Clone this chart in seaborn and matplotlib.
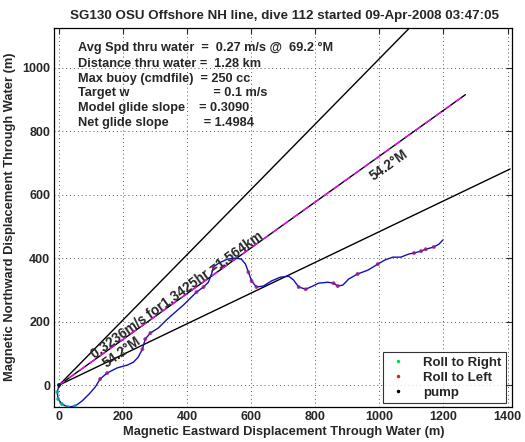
import numpy as np
import pandas as pd
import seaborn as sns
import matplotlib.pyplot as plt
from matplotlib.lines import Line2D

# glider track (magnetic east / north displacement through water, m)
east = [0, -6, -3, 9, 28, 50, 72, 94, 113, 128, 150, 181, 213, 232, 247, 260,
        269, 285, 310, 335, 363, 388, 410, 429, 451, 466, 476, 482, 498, 526,
        551, 569, 582, 591, 601, 616, 638, 663, 691, 717, 732, 748, 770, 792,
        810, 839, 857, 870, 886, 904, 932, 964, 995, 1017, 1042, 1067, 1092,
        1108, 1130, 1145, 1170, 1186, 1198]
north = [0, -22, -44, -60, -69, -66, -50, -28, -6, 19, 38, 54, 63, 72, 88, 113,
         145, 164, 180, 205, 230, 252, 274, 293, 309, 324, 350, 372, 384, 397,
         400, 397, 381, 356, 328, 309, 312, 328, 340, 343, 331, 309, 302, 312,
         321, 324, 321, 312, 315, 334, 350, 362, 381, 394, 403, 403, 413,
         416, 422, 428, 435, 444, 457]

# track indices where each state was logged
roll_right_idx = [0, 1, 2, 3, 4, 5]
roll_left_idx = [9, 10, 15, 16, 17, 23, 24, 27, 33, 34, 35, 41, 42, 46, 47,
                 50, 52, 57, 58, 59, 60]
pump_idx = [0]

heading = 54.2        # deg M
dist_km = 1.564
speed = 0.3236
hours = 1.3425
spread = 10.0         # deg either side of heading

stat_lines = [
    "Avg Spd thru water  =  0.27 m/s @  69.2 \u00b0M",
    "Distance thru water =  1.28 km",
    "Max buoy (cmdfile)  = 250 cc",
    "Target w                        = 0.1 m/s",
    "Model glide slope    = 0.3090",
    "Net glide slope          = 1.4984",
]

sns.set_style("white")
plt.rcParams['font.family'] = ['Liberation Sans', 'DejaVu Sans']
plt.rcParams['font.weight'] = 'bold'

fig = plt.figure(figsize=(5.25, 4.42), dpi=100)
ax = fig.add_axes([0.1034, 0.0785, 0.8712, 0.8575])

track = pd.DataFrame({'east': east, 'north': north})

# heading lines: +/- spread in black, heading in black with magenta dashes
d = dist_km * 1000
for off in (-spread, spread):
    a = np.radians(heading + off)
    ax.plot([0, d * np.sin(a)], [0, d * np.cos(a)], color='black', lw=1.0, zorder=2)
a = np.radians(heading)
hx, hy = [0, d * np.sin(a)], [0, d * np.cos(a)]
ax.plot(hx, hy, color='black', lw=1.0, zorder=2)
ax.plot(hx, hy, color='magenta', lw=1.0, dashes=(5, 4), zorder=3)

sns.lineplot(data=track, x='east', y='north', sort=False, estimator=None,
             color='#1010c0', lw=1.0, ax=ax, zorder=4)

states = pd.DataFrame({
    'east': [east[i] for i in roll_right_idx] + [east[i] for i in roll_left_idx] + [east[i] for i in pump_idx],
    'north': [north[i] for i in roll_right_idx] + [north[i] for i in roll_left_idx] + [north[i] for i in pump_idx],
    'state': ['Roll to Right'] * len(roll_right_idx) + ['Roll to Left'] * len(roll_left_idx) + ['pump'] * len(pump_idx),
})
sns.scatterplot(data=states, x='east', y='north', hue='state',
                palette={'Roll to Right': '#10b090', 'Roll to Left': '#a01878', 'pump': 'black'},
                s=8, linewidth=0, alpha=0.8, legend=False, ax=ax, zorder=5)

rot = 35.6
ax.text(369, 283, f"{speed}m/s for{hours}hr ={dist_km}km", rotation=rot,
        ha='center', va='center', fontsize=9.8, fontweight='bold', zorder=6)
ax.text(197, 104, f"{heading}\u00b0M", rotation=rot, ha='center', va='center',
        fontsize=9.8, fontweight='bold', zorder=6)
ax.text(1029, 693, f"{heading}\u00b0M", rotation=rot, ha='center', va='center',
        fontsize=9.8, fontweight='bold', zorder=6)

ys = [0.948, 0.905, 0.866, 0.828, 0.790, 0.751]
for s, yy in zip(stat_lines, ys):
    ax.text(0.052, yy, s, transform=ax.transAxes, ha='left', va='center',
            fontsize=9.2, fontweight='bold')

ax.set_xlim(-15, 1413)
ax.set_ylim(-70, 1124)
ax.set_xticks(range(0, 1401, 200))
ax.set_yticks(range(0, 1001, 200))
ax.grid(True, linestyle=(0, (1, 3)), color='0.35', lw=0.7)
ax.tick_params(direction='in', length=4, width=0.8, top=True, right=True,
               labelsize=9, pad=3)
for lab in ax.get_xticklabels() + ax.get_yticklabels():
    lab.set_fontweight('bold')
for sp in ax.spines.values():
    sp.set_color('black')
    sp.set_linewidth(0.9)
ax.set_xlabel('')
ax.set_ylabel('')

handles = [Line2D([], [], ls='none', marker='.', ms=3, color=c)
           for c in ('#00dd44', '#dd2020', 'black')]
leg = ax.legend(handles, ['Roll to Right', 'Roll to Left', 'pump'],
                loc='lower right', bbox_to_anchor=(0.9875, 0.011),
                borderaxespad=0, frameon=True, fancybox=False, edgecolor='black',
                prop={'weight': 'bold', 'size': 9.5}, handlelength=1.6,
                handletextpad=1.1, borderpad=0.35, labelspacing=0.2)
leg.get_frame().set_linewidth(0.8)

fig.text(0.542, 1 - 16 / 442, "SG130 OSU Offshore NH line, dive 112 started 09-Apr-2008 03:47:05",
         ha='center', va='center', fontsize=9.6, fontweight='bold')
fig.text(0.54, 1 - 432 / 442, "Magnetic Eastward Displacement Through Water (m)",
         ha='center', va='center', fontsize=9.3, fontweight='bold')
fig.text(10 / 525, 1 - 217 / 442, "Magnetic Northward Displacement Through Water (m)",
         ha='center', va='center', rotation=90, fontsize=9.3, fontweight='bold')

fig.savefig('out.png', dpi=100)
